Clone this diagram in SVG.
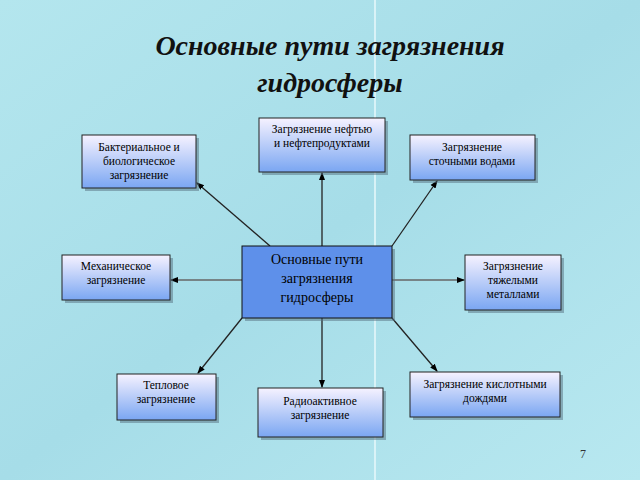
<svg xmlns="http://www.w3.org/2000/svg" width="640" height="480" viewBox="0 0 640 480">
<defs>
<linearGradient id="bg" x1="0" y1="0" x2="1" y2="1"><stop offset="0" stop-color="#b4e6ee"/><stop offset="0.5" stop-color="#a6dde8"/><stop offset="1" stop-color="#b8e8f0"/></linearGradient>
<linearGradient id="box" x1="0" y1="0" x2="0" y2="1"><stop offset="0" stop-color="#f6f2ff"/><stop offset="1" stop-color="#7aa6f2"/></linearGradient>
<marker id="ar" markerWidth="8" markerHeight="8" refX="7" refY="4" orient="auto" markerUnits="userSpaceOnUse"><path d="M0,1 L8,4 L0,7 Z" fill="#000"/></marker>
</defs>
<style>
.b{fill:url(#box);stroke:#222;stroke-width:1}
.sh{fill:#557080;opacity:0.5}
text{font-family:'Liberation Serif','Times New Roman',serif}
.t{font-size:11.5px;fill:#000;text-anchor:middle}
.c line{stroke:#222;stroke-width:1.3;marker-end:url(#ar)}
</style>
<rect width="640" height="480" fill="url(#bg)"/>
<line x1="375" y1="0" x2="375" y2="480" stroke="#e8f8fb" stroke-width="1.5"/>
<text x="330" y="55" font-size="28" font-weight="bold" font-style="italic" text-anchor="middle" fill="#111">Основные пути загрязнения</text>
<text x="330" y="92" font-size="28" font-weight="bold" font-style="italic" text-anchor="middle" fill="#111">гидросферы</text>
<g class="c">
<line x1="322" y1="246" x2="322" y2="173"/>
<line x1="270" y1="246" x2="197" y2="183"/>
<line x1="392" y1="246" x2="437" y2="181"/>
<line x1="242" y1="318" x2="198" y2="373"/>
<line x1="322" y1="318" x2="322" y2="387"/>
<line x1="392" y1="318" x2="437" y2="371"/>
<line x1="242" y1="280" x2="171" y2="280" style="stroke:#666"/>
<line x1="392" y1="280" x2="464" y2="280" style="stroke:#666"/>
</g>
<g id="n1"><rect class="sh" x="262" y="121" width="126" height="54"/><rect class="b" x="259" y="118" width="126" height="54"/><text class="t" x="322" y="133">Загрязнение нефтью</text><text class="t" x="322" y="147">и нефтепродуктами</text></g>
<g id="n2"><rect class="sh" x="85" y="138" width="114" height="53"/><rect class="b" x="82" y="135" width="114" height="53"/><text class="t" x="139" y="151">Бактериальное и</text><text class="t" x="139" y="165">биологическое</text><text class="t" x="139" y="179">загрязнение</text></g>
<g id="n3"><rect class="sh" x="413" y="138" width="125" height="45"/><rect class="b" x="410" y="135" width="125" height="45"/><text class="t" x="472" y="151">Загрязнение</text><text class="t" x="472" y="165">сточными водами</text></g>
<g id="n4"><rect class="sh" x="65" y="258" width="108" height="45"/><rect class="b" x="62" y="255" width="108" height="45"/><text class="t" x="116" y="270">Механическое</text><text class="t" x="116" y="284">загрязнение</text></g>
<g id="center"><rect class="sh" x="245" y="249" width="150" height="72"/><rect x="242" y="246" width="150" height="72" fill="#5e90ea" stroke="#111"/><text class="t" x="317" y="264" style="font-size:14px">Основные пути</text><text class="t" x="317" y="283" style="font-size:14px">загрязнения</text><text class="t" x="317" y="302" style="font-size:14px">гидросферы</text></g>
<g id="n5"><rect class="sh" x="468" y="258" width="96" height="55"/><rect class="b" x="465" y="255" width="96" height="55"/><text class="t" x="513" y="270">Загрязнение</text><text class="t" x="513" y="284">тяжелыми</text><text class="t" x="513" y="298">металлами</text></g>
<g id="n6"><rect class="sh" x="120" y="377" width="99" height="46"/><rect class="b" x="117" y="374" width="99" height="46"/><text class="t" x="166" y="389">Тепловое</text><text class="t" x="166" y="403">загрязнение</text></g>
<g id="n7"><rect class="sh" x="261" y="391" width="125" height="49"/><rect class="b" x="258" y="388" width="125" height="49"/><text class="t" x="320" y="405">Радиоактивное</text><text class="t" x="320" y="419">загрязнение</text></g>
<g id="n8"><rect class="sh" x="413" y="375" width="150" height="45"/><rect class="b" x="410" y="372" width="150" height="45"/><text class="t" x="485" y="388">Загрязнение кислотными</text><text class="t" x="485" y="402">дождями</text></g>
<text x="580" y="458" font-family="Liberation Sans,sans-serif" font-size="12" fill="#333">7</text>
</svg>
